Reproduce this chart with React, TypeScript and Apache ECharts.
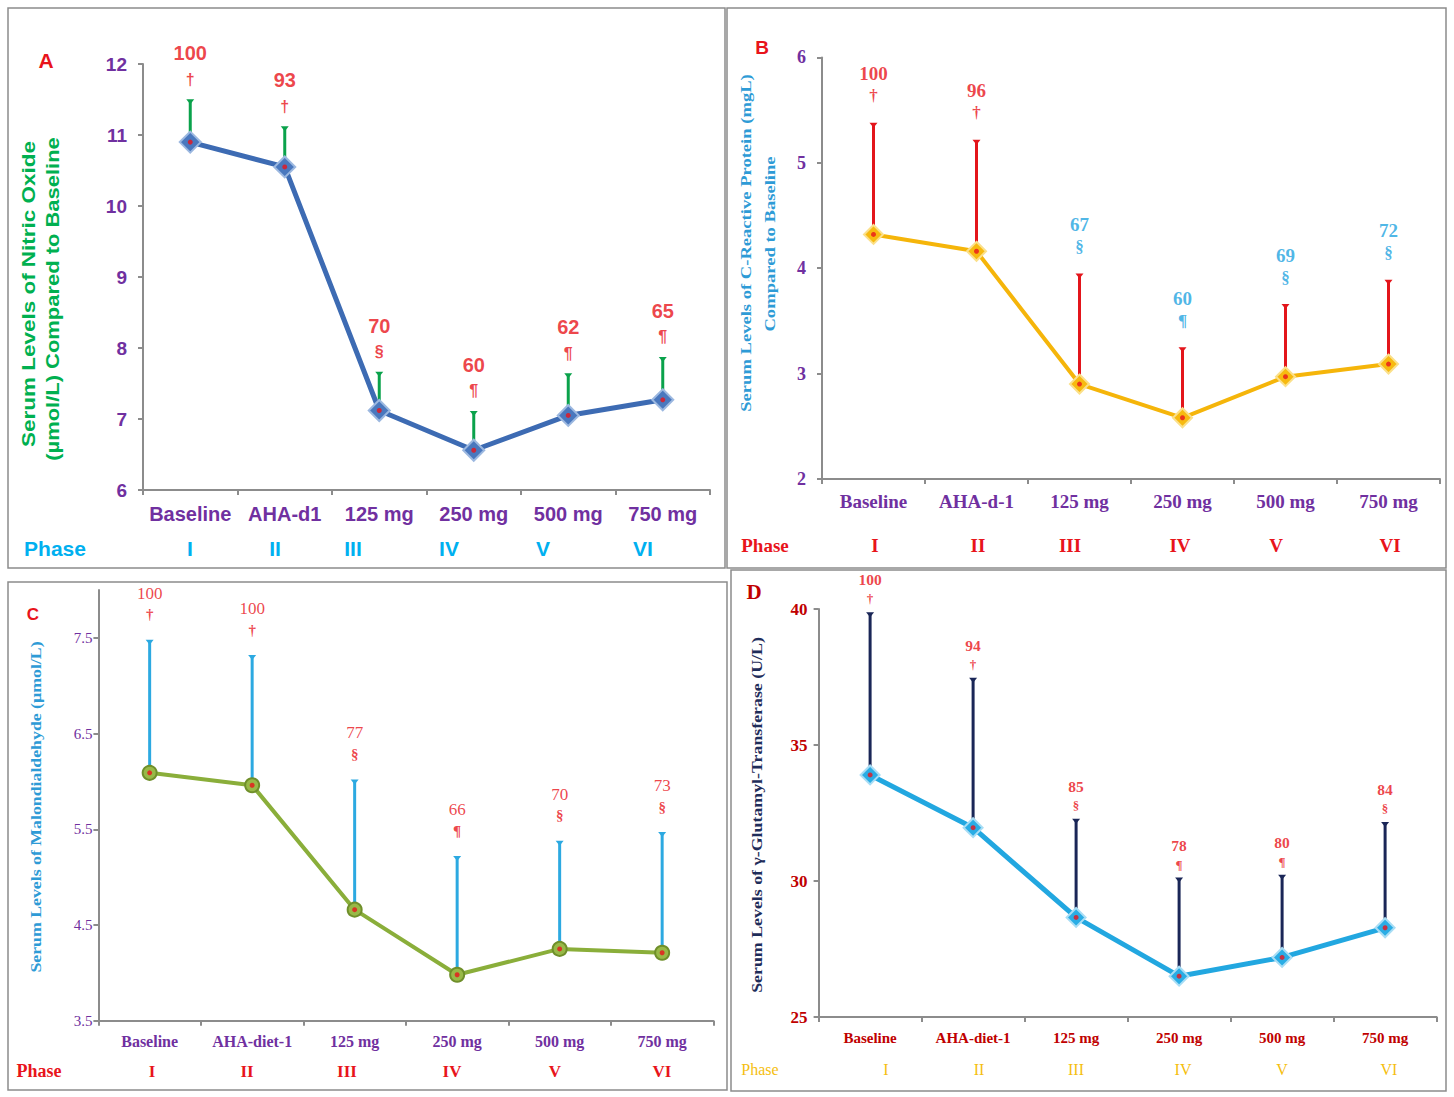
import React, { useEffect, useRef } from "react";
import * as echarts from "echarts";

// ---------------- data ----------------
const categoriesA = ["Baseline", "AHA-d1", "125 mg", "250 mg", "500 mg", "750 mg"];
const categoriesB = ["Baseline", "AHA-d-1", "125 mg", "250 mg", "500 mg", "750 mg"];
const categoriesC = ["Baseline", "AHA-diet-1", "125 mg", "250 mg", "500 mg", "750 mg"];
const categoriesD = ["Baseline", "AHA-diet-1", "125 mg", "250 mg", "500 mg", "750 mg"];
const phases = ["I", "II", "III", "IV", "V", "VI"];

const meanA = [10.9, 10.55, 7.12, 6.56, 7.05, 7.27];
const upperA = [11.49, 11.11, 7.65, 7.1, 7.63, 7.86];
const pctA = ["100", "93", "70", "60", "62", "65"];
const markA = ["†", "†", "§", "¶", "¶", "¶"];

const meanB = [4.32, 4.16, 2.9, 2.58, 2.97, 3.09];
const upperB = [5.37, 5.21, 3.94, 3.24, 3.65, 3.88];
const pctB = ["100", "96", "67", "60", "69", "72"];
const markB = ["†", "†", "§", "¶", "§", "§"];

const meanC = [6.09, 5.96, 4.66, 3.98, 4.25, 4.21];
const upperC = [7.47, 7.31, 6.01, 5.21, 5.37, 5.46];
const pctC = ["100", "100", "77", "66", "70", "73"];
const markC = ["†", "†", "§", "¶", "§", "§"];

const meanD = [33.9, 31.96, 28.66, 26.5, 27.19, 28.28];
const upperD = [39.84, 37.44, 32.25, 30.09, 30.19, 32.13];
const pctD = ["100", "94", "85", "78", "80", "84"];
const markD = ["†", "†", "§", "¶", "¶", "§"];

// ---------------- layout / style ----------------
const SANS = "'Liberation Sans', Arial, sans-serif";
const SERIF = "'Liberation Serif', 'Times New Roman', serif";
const PURPLE = "#7030A0";
const RED = "#E8141B";
const CYAN = "#00B0F0";

type Panel = {
  grid: { left: number; top: number; width: number; height: number };
  cats: string[];
  min: number;
  max: number;
  interval: number;
  mean: number[];
  upper: number[];
  pct: string[];
  mark: string[];
  font: string;
  tickColor: string;
  tickSize: number;
  tickBold: boolean;
  yMargin: number;
  catColor: string;
  catSize: number;
  catBold: boolean;
  catMargin: number;
  lineColor: string;
  lineWidth: number;
  symbol: string;
  symbolSize: number;
  fill: string;
  border: string;
  errColor: string;
  labelColor: (i: number) => string;
  labelSize: number;
  markSize: number;
  labelBold: boolean;
  lineHeight: number;
  labelDist: number;
  showMax: boolean;
};

const panels: Panel[] = [
  {
    grid: { left: 143, top: 64, width: 567, height: 426 },
    cats: categoriesA, min: 6, max: 12, interval: 1,
    mean: meanA, upper: upperA, pct: pctA, mark: markA,
    font: SANS, tickColor: PURPLE, tickSize: 19, tickBold: true, yMargin: 16,
    catColor: PURPLE, catSize: 20, catBold: true, catMargin: 14,
    lineColor: "#3D6BB3", lineWidth: 5, symbol: "diamond", symbolSize: 21,
    fill: "#4A78BE", border: "#9CB8E0", errColor: "#0AA24B",
    labelColor: () => RED, labelSize: 20, markSize: 16, labelBold: true,
    lineHeight: 26, labelDist: 8, showMax: true,
  },
  {
    grid: { left: 822, top: 57.4, width: 618, height: 421.5 },
    cats: categoriesB, min: 2, max: 6, interval: 1,
    mean: meanB, upper: upperB, pct: pctB, mark: markB,
    font: SERIF, tickColor: PURPLE, tickSize: 18, tickBold: true, yMargin: 16,
    catColor: PURPLE, catSize: 19, catBold: true, catMargin: 13,
    lineColor: "#F5B50A", lineWidth: 4, symbol: "diamond", symbolSize: 19,
    fill: "#F7BA10", border: "#FBE08A", errColor: "#E3151B",
    labelColor: (i) => (markB[i] === "†" ? RED : "#1FA3DF"), labelSize: 19, markSize: 17, labelBold: true,
    lineHeight: 22, labelDist: 17, showMax: true,
  },
  {
    grid: { left: 98.4, top: 590, width: 615, height: 430.7 },
    cats: categoriesC, min: 3.5, max: 8, interval: 1,
    mean: meanC, upper: upperC, pct: pctC, mark: markC,
    font: SERIF, tickColor: PURPLE, tickSize: 15, tickBold: false, yMargin: 6,
    catColor: PURPLE, catSize: 16, catBold: true, catMargin: 13,
    lineColor: "#8AAE3A", lineWidth: 4, symbol: "circle", symbolSize: 14,
    fill: "#98B947", border: "#6F8F2A", errColor: "#2CA9E1",
    labelColor: () => RED, labelSize: 17, markSize: 15, labelBold: false,
    lineHeight: 21, labelDist: 16, showMax: false,
  },
  {
    grid: { left: 818.6, top: 609, width: 618, height: 408 },
    cats: categoriesD, min: 25, max: 40, interval: 5,
    mean: meanD, upper: upperD, pct: pctD, mark: markD,
    font: SERIF, tickColor: "#C00000", tickSize: 17, tickBold: true, yMargin: 11,
    catColor: "#C00000", catSize: 15, catBold: true, catMargin: 13,
    lineColor: "#22A7E0", lineWidth: 5, symbol: "diamond", symbolSize: 19,
    fill: "#2AADE5", border: "#A8DDF5", errColor: "#1A2657",
    labelColor: () => RED, labelSize: 15.5, markSize: 13, labelBold: true,
    lineHeight: 19, labelDist: 5, showMax: true,
  },
];

// phase row positions (layout only)
const phaseRows = [
  { y: 548, xs: [55, 190, 275, 353, 449, 543, 643], color: CYAN, font: SANS, size: 21, headSize: 21, bold: true },
  { y: 545, xs: [765, 875, 978, 1070, 1180, 1276, 1390], color: RED, font: SERIF, size: 19, headSize: 19, bold: true },
  { y: 1071, xs: [39, 152, 247, 347, 452, 555, 662], color: RED, font: SERIF, size: 17, headSize: 18, bold: true },
  { y: 1069, xs: [760, 886, 979, 1076, 1183, 1282, 1389], color: "#F5BE0F", font: SERIF, size: 16, headSize: 16, bold: false },
];

function buildOption() {
  const grids: any[] = [];
  const xAxes: any[] = [];
  const yAxes: any[] = [];
  const series: any[] = [];
  const graphics: any[] = [];

  panels.forEach((p, k) => {
    grids.push({ ...p.grid, containLabel: false });
    xAxes.push({
      type: "category",
      gridIndex: k,
      data: p.cats,
      boundaryGap: true,
      axisLine: { lineStyle: { color: "#8C8C8C", width: 2 } },
      axisTick: { show: true, length: 5, lineStyle: { color: "#8C8C8C", width: 2 } },
      axisLabel: {
        color: p.catColor,
        fontFamily: p.font,
        fontSize: p.catSize,
        fontWeight: p.catBold ? "bold" : "normal",
        margin: p.catMargin,
        interval: 0,
      },
      splitLine: { show: false },
    });
    yAxes.push({
      type: "value",
      gridIndex: k,
      min: p.min,
      max: p.max,
      interval: p.interval,
      axisLine: { show: true, lineStyle: { color: "#8C8C8C", width: 2 } },
      axisTick: { show: true, length: 5, lineStyle: { color: "#8C8C8C", width: 2 } },
      axisLabel: {
        color: p.tickColor,
        fontFamily: p.font,
        fontSize: p.tickSize,
        fontWeight: p.tickBold ? "bold" : "normal",
        margin: p.yMargin,
        showMaxLabel: p.showMax,
      },
      splitLine: { show: false },
    });

    // error bars (mean -> upper)
    const errColor = p.errColor;
    series.push({
      type: "custom",
      xAxisIndex: k,
      yAxisIndex: k,
      z: 2,
      silent: true,
      data: p.mean.map((m, i) => [i, m, p.upper[i]]),
      encode: { x: 0, y: [1, 2] },
      renderItem: (params: any, api: any) => {
        const lo = api.coord([api.value(0), api.value(1)]);
        const hi = api.coord([api.value(0), api.value(2)]);
        return {
          type: "group",
          children: [
            {
              type: "line",
              shape: { x1: lo[0], y1: lo[1], x2: hi[0], y2: hi[1] },
              style: { stroke: errColor, lineWidth: 3 },
            },
            {
              type: "polygon",
              shape: {
                points: [
                  [hi[0] - 4, hi[1] - 1],
                  [hi[0] + 4, hi[1] - 1],
                  [hi[0], hi[1] + 4],
                ],
              },
              style: { fill: errColor },
            },
          ],
        };
      },
    });

    // mean line
    series.push({
      type: "line",
      xAxisIndex: k,
      yAxisIndex: k,
      z: 3,
      data: p.mean,
      symbol: p.symbol,
      symbolSize: p.symbolSize,
      showAllSymbol: true,
      lineStyle: { color: p.lineColor, width: p.lineWidth },
      itemStyle: { color: p.fill, borderColor: p.border, borderWidth: 2 },
      silent: true,
    });

    // red centre dot
    series.push({
      type: "scatter",
      xAxisIndex: k,
      yAxisIndex: k,
      z: 4,
      silent: true,
      symbol: "circle",
      symbolSize: 5,
      itemStyle: { color: "#E8141B" },
      data: p.mean.map((m, i) => [i, m]),
    });

    // percentage + significance labels above the error bars
    series.push({
      type: "scatter",
      xAxisIndex: k,
      yAxisIndex: k,
      z: 5,
      silent: true,
      symbolSize: 0,
      data: p.upper.map((u, i) => {
        const c = p.labelColor(i);
        return {
          value: [i, u],
          label: {
            show: true,
            position: "top",
            distance: p.labelDist,
            formatter: `{n|${p.pct[i]}}\n{s|${p.mark[i]}}`,
            rich: {
              n: {
                color: c,
                fontFamily: p.font,
                fontSize: p.labelSize,
                fontWeight: p.labelBold ? "bold" : "normal",
                lineHeight: p.lineHeight,
                align: "center",
              },
              s: {
                color: c,
                fontFamily: p.font,
                fontSize: p.markSize,
                fontWeight: "bold",
                lineHeight: p.lineHeight,
                align: "center",
              },
            },
          },
        };
      }),
    });
  });

  // panel borders
  const borders = [
    [8, 8, 717, 560],
    [727, 8, 719, 560],
    [8, 582, 719, 508],
    [731, 570, 715, 521],
  ];
  borders.forEach(([x, y, w, h]) =>
    graphics.push({
      type: "rect",
      shape: { x, y, width: w, height: h },
      style: { fill: "none", stroke: "#8C8C8C", lineWidth: 1.5 },
      silent: true,
    })
  );

  // panel letters
  const letters = [
    { t: "A", x: 46, y: 60, f: SANS, s: 21, c: RED },
    { t: "B", x: 762, y: 47, f: SANS, s: 19, c: RED },
    { t: "C", x: 33, y: 614, f: SANS, s: 17, c: RED },
    { t: "D", x: 754, y: 592, f: SERIF, s: 21, c: "#C00000" },
  ];
  letters.forEach((l) =>
    graphics.push({
      type: "text",
      x: l.x,
      y: l.y,
      style: {
        text: l.t,
        fill: l.c,
        font: `bold ${l.s}px ${l.f}`,
        textAlign: "center",
        textVerticalAlign: "middle",
      },
    })
  );

  // phase rows
  phaseRows.forEach((r) => {
    ["Phase", ...phases].forEach((t, i) =>
      graphics.push({
        type: "text",
        x: r.xs[i],
        y: r.y,
        style: {
          text: t,
          fill: r.color,
          font: `${r.bold ? "bold " : ""}${i === 0 ? r.headSize : r.size}px ${r.font}`,
          textAlign: "center",
          textVerticalAlign: "middle",
        },
      })
    );
  });

  // y-axis titles (rotated, stretched along their length like the source)
  const titles = [
    { t: "Serum Levels of Nitric Oxide", x: 29, y: 294, c: "#00B050", f: `bold 18px ${SANS}`, sx: 1.25 },
    { t: "(µmol/L) Compared to Baseline", x: 53, y: 299, c: "#00B050", f: `bold 18px ${SANS}`, sx: 1.22 },
    { t: "Serum Levels of C-Reactive Protein (mgL)", x: 746, y: 243, c: "#2E9BD6", f: `bold 15px ${SERIF}`, sx: 1.24 },
    { t: "Compared to Baseline", x: 770, y: 244, c: "#2E9BD6", f: `bold 15px ${SERIF}`, sx: 1.24 },
    { t: "Serum Levels of Malondialdehyde (µmol/L)", x: 36, y: 807, c: "#2E9BD6", f: `bold 14px ${SERIF}`, sx: 1.27 },
    { t: "Serum Levels of γ-Glutamyl-Transferase (U/L)", x: 757, y: 815, c: "#1F2D5A", f: `bold 15px ${SERIF}`, sx: 1.19 },
  ];
  titles.forEach((t) =>
    graphics.push({
      type: "text",
      x: t.x,
      y: t.y,
      rotation: Math.PI / 2,
      scaleX: t.sx,
      style: {
        text: t.t,
        fill: t.c,
        font: t.f,
        textAlign: "center",
        textVerticalAlign: "middle",
      },
    })
  );

  return {
    animation: false,
    backgroundColor: "#FFFFFF",
    grid: grids,
    xAxis: xAxes,
    yAxis: yAxes,
    series,
    graphic: graphics,
  };
}

export default function App() {
  const ref = useRef<HTMLDivElement>(null);
  useEffect(() => {
    document.body.style.margin = "0";
    if (!ref.current) return;
    const chart = echarts.init(ref.current, undefined, { renderer: "svg" });
    chart.setOption(buildOption() as any);
    return () => chart.dispose();
  }, []);
  return <div ref={ref} style={{ width: 1454, height: 1097 }} />;
}
